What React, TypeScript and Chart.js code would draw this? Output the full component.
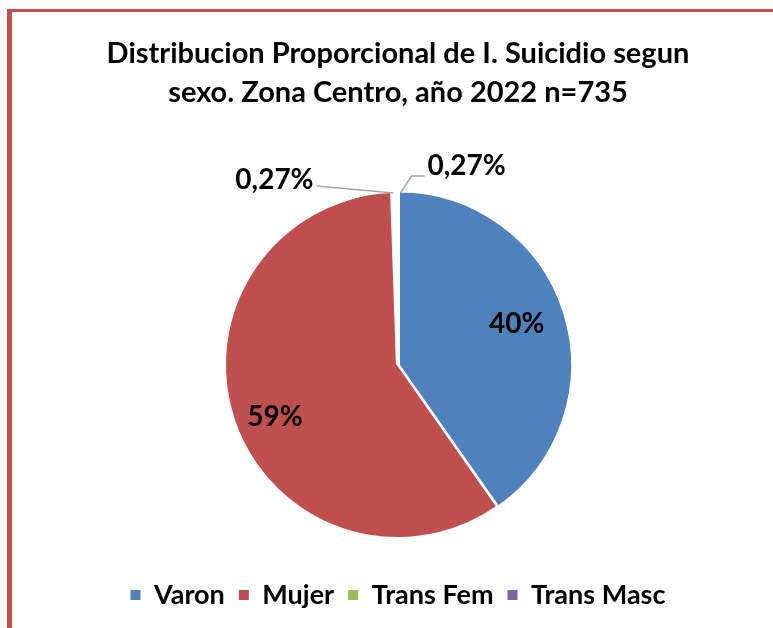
import React, { useEffect, useRef } from "react";
import { Chart, registerables } from "chart.js";

Chart.register(...registerables);

const titleLines = ["Distribucion Proporcional de I. Suicidio segun", "sexo. Zona Centro, año 2022 n=735"];
const categories = ["Varon", "Mujer", "Trans Fem", "Trans Masc"];
const counts = [296, 435, 2, 2];
const colors = ["#4F81BD", "#C0504D", "#9BBB59", "#8064A2"];

const FONT = "Lato, 'Open Sans', sans-serif";

function fmtPct(v: number, total: number) {
  const p = (v / total) * 100;
  if (p < 1) return p.toFixed(2).replace(".", ",") + "%";
  return Math.round(p) + "%";
}

const labelPlugin = {
  id: "pieLabels",
  afterDatasetsDraw(chart: any) {
    const ctx = chart.ctx;
    const meta = chart.getDatasetMeta(0);
    const data = chart.data.datasets[0].data as number[];
    const total = data.reduce((a, b) => a + b, 0);
    const nudges = [
      [0, -4],
      [-5, 12],
    ];
    ctx.save();
    ctx.font = `bold 28px ${FONT}`;
    ctx.fillStyle = "#000";
    ctx.textBaseline = "middle";
    meta.data.forEach((arc: any, i: number) => {
      const txt = fmtPct(data[i], total);
      const mid = (arc.startAngle + arc.endAngle) / 2;
      const r = arc.outerRadius;
      const cx = arc.x;
      const cy = arc.y;
      if (data[i] / total >= 0.05) {
        ctx.textAlign = "center";
        const rr = r * 0.72;
        const n = nudges[i] || [0, 0];
        ctx.fillText(txt, cx + Math.cos(mid) * rr + n[0], cy + Math.sin(mid) * rr + n[1]);
      } else {
        const ax = cx + Math.cos(mid) * r;
        const ay = cy + Math.sin(mid) * r;
        ctx.strokeStyle = "#A6A6A6";
        ctx.lineWidth = 1.5;
        ctx.beginPath();
        if (i === 2) {
          ctx.moveTo(ax, ay + 1);
          ctx.lineTo(ax - 77, ay - 6);
          ctx.stroke();
          ctx.textAlign = "right";
          ctx.fillText(txt, ax - 80, ay - 12);
        } else {
          ctx.moveTo(ax + 4, ay + 1);
          ctx.lineTo(ax + 15, ay - 16);
          ctx.lineTo(ax + 28, ay - 16);
          ctx.stroke();
          ctx.textAlign = "left";
          ctx.fillText(txt, ax + 31, ay - 26);
        }
      }
    });
    ctx.restore();
  },
};

export default function App() {
  const ref = useRef<HTMLCanvasElement>(null);
  useEffect(() => {
    if (!ref.current) return;
    const chart = new Chart(ref.current, {
      type: "pie",
      data: {
        labels: categories,
        datasets: [
          {
            data: counts,
            backgroundColor: colors,
            borderColor: "#FFFFFF",
            borderWidth: [2, 2, 4, 4],
            offset: [3, 0, 0, 0],
            radius: 173,
          } as any,
        ],
      },
      options: {
        animation: false,
        responsive: false,
        maintainAspectRatio: false,
        layout: { padding: { top: 10, bottom: 9.5, left: 30, right: 7 } },
        plugins: {
          title: {
            display: true,
            text: titleLines,
            color: "#000",
            font: { family: FONT, size: 29, weight: "bold", lineHeight: 1.345 },
            padding: { top: 24, bottom: 50.5 },
          },
          legend: {
            position: "bottom",
            labels: {
              color: "#000",
              boxWidth: 10,
              boxHeight: 10,
              padding: 14,
              font: { family: FONT, size: 27, weight: "bold" },
              generateLabels(chart: any) {
                const base = Chart.overrides.pie.plugins.legend.labels.generateLabels(chart);
                return base.map((l: any) => ({ ...l, lineWidth: 0 }));
              },
            },
          },
          tooltip: { enabled: false },
        },
      },
      plugins: [labelPlugin],
    });
    return () => chart.destroy();
  }, []);
  return (
    <div style={{ position: "fixed", left: 0, top: 0, width: 773, height: 628, background: "#fff", overflow: "hidden" }}>
      <div
        style={{
          position: "absolute",
          left: 7,
          top: 9,
          width: 800,
          height: 700,
          borderLeft: "5px solid #C0504D",
          borderTop: "3px solid #C0504D",
        }}
      />
      <canvas ref={ref} width={773} height={628} style={{ position: "absolute", left: 0, top: 0 }} />
    </div>
  );
}
